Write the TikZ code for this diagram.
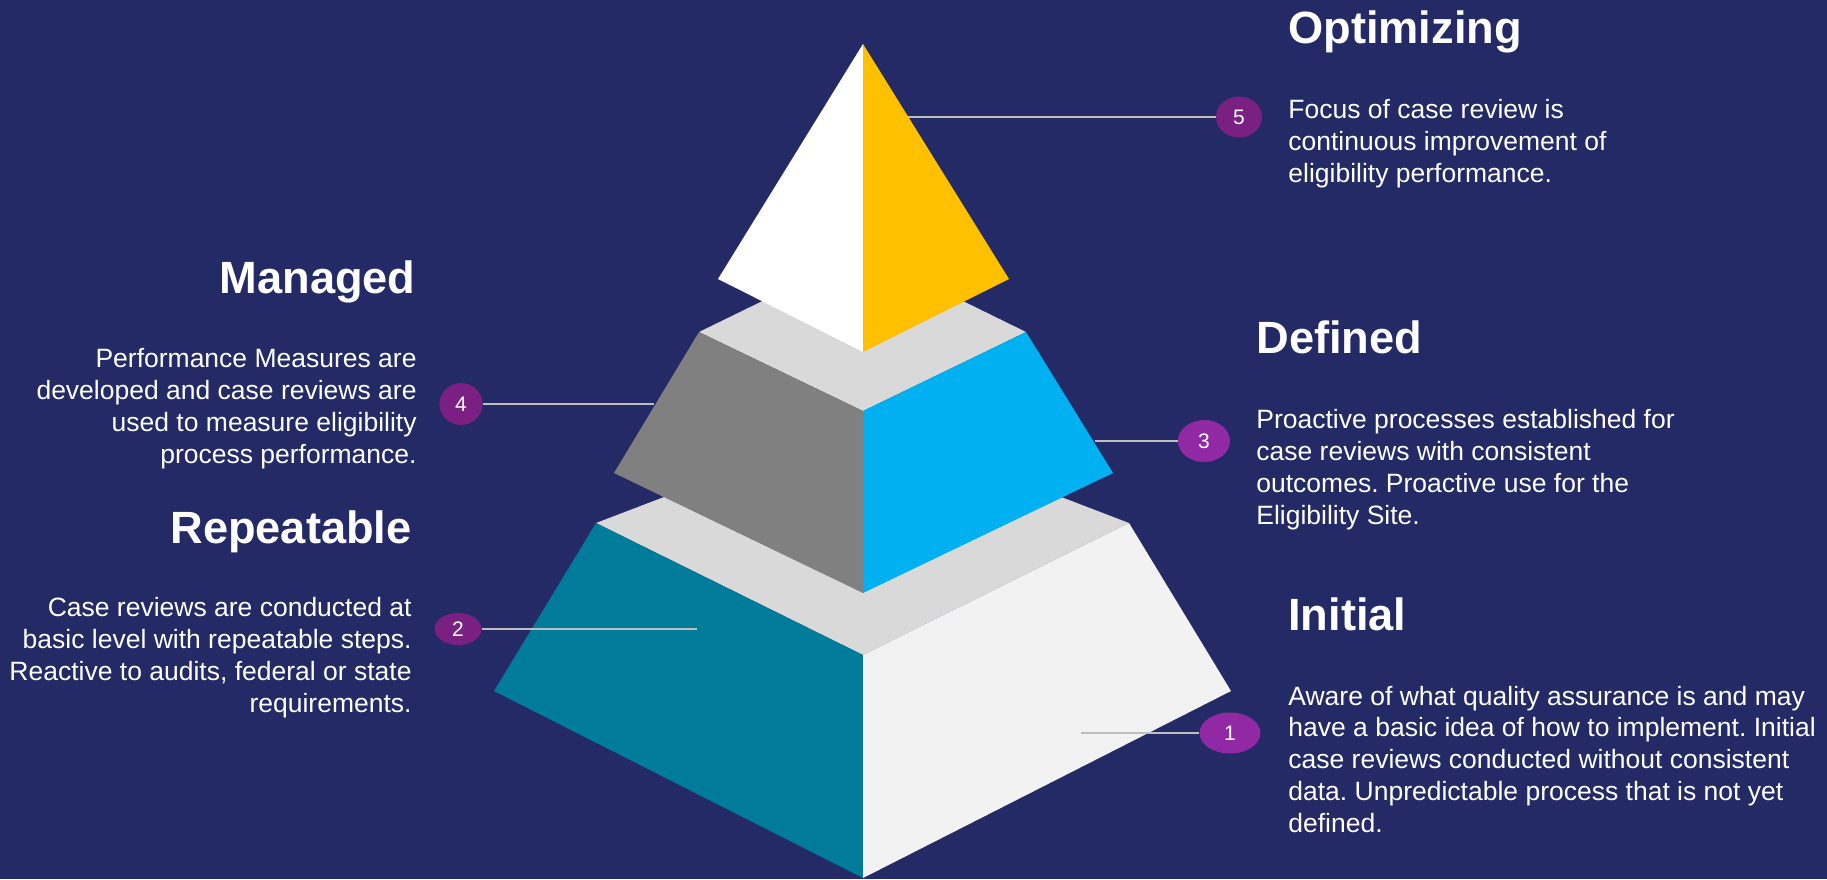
\documentclass[tikz,border=0pt]{standalone}
\usepackage{fontspec}
\setmainfont{Liberation Sans}
\frenchspacing
\usetikzlibrary{shapes.geometric}
\definecolor{navy}{RGB}{35,42,102}
\definecolor{topface}{RGB}{217,217,217}
\definecolor{optimizing}{RGB}{255,192,0}
\definecolor{defined}{RGB}{0,176,240}
\definecolor{managed}{RGB}{128,128,128}
\definecolor{repeatable}{RGB}{0,123,154}
\definecolor{initial}{RGB}{242,242,242}
\definecolor{leaderline}{RGB}{191,191,191}
\definecolor{plum}{RGB}{122,32,130}
\definecolor{violet}{RGB}{145,41,165}
\tikzstyle{badge}=[ellipse, inner sep=0pt, text=white, font=\fontsize{10.5pt}{12pt}\selectfont]
\tikzset{leader/.style={line width=1pt, color=leaderline}}
\tikzstyle{title}=[inner sep=0pt, text=white, font=\fontsize{22.6pt}{26pt}\selectfont\bfseries]
\tikzstyle{body}=[inner sep=0pt, text=white, font=\fontsize{13.25pt}{15.85pt}\selectfont]

\begin{document}
\begin{tikzpicture}[x=0.5pt,y=-0.5pt]
  \fill[navy] (0,0) rectangle (1827,879);
  \useasboundingbox (0,0) rectangle (1827,879);

  %% Bottom layer
  \fill[topface] (596,523) -- (863,421) -- (1129,523) -- (863,655) -- cycle;
  \fill[repeatable] (596,523) -- (494,691) -- (863,878) -- (863,655) -- cycle;
  \fill[initial] (1129,523) -- (1231,691) -- (863,878) -- (863,655) -- cycle;

  %% Middle layer
  \fill[topface] (699,332) -- (863,252) -- (1026,332) -- (863,411) -- cycle;
  \fill[managed] (699,332) -- (614,473) -- (863,593) -- (863,411) -- cycle;
  \fill[defined] (1026,332) -- (1113,473) -- (863,593) -- (863,411) -- cycle;

  %% Top
  \fill[white] (863,44) -- (718,279) -- (863,352) -- cycle;
  \fill[optimizing] (863,44) -- (1009,279) -- (863,352) -- cycle;

  %% Badges
  \draw (1239,117) node[badge, fill=plum, minimum width=23pt, minimum height=20.5pt] (C5) {5};
  \draw (461,404) node[badge, fill=plum, minimum width=21.5pt, minimum height=21pt] (C4) {4};
  \draw (1204,441) node[badge, fill=violet, minimum width=26pt, minimum height=21pt] (C3) {3};
  \draw (458,629) node[badge, fill=plum, minimum width=23.5pt, minimum height=16pt] (C2) {\raisebox{-2pt}{2}};
  \draw (1230,733) node[badge, fill=violet, minimum width=30.5pt, minimum height=20.5pt] (C1) {1};

  \coordinate (E5) at (907,117);
  \coordinate (E4) at (654,404);
  \coordinate (E3) at (1095,441);
  \coordinate (E2) at (697,629);
  \coordinate (E1) at (1081,733);

  \draw[leader] (E5) -- (C5);
  \draw[leader] (C4) -- (E4);
  \draw[leader] (E3) -- (C3);
  \draw[leader] (C2) -- (E2);
  \draw[leader] (E1) -- (C1);

  %% Texts (body nodes sit on their last baseline)
  \draw (1288,43) node[title, anchor=base west] (T5) {Optimizing};
  \draw (1288,182) node[body, anchor=base west, align=left] (D5) {Focus of case review is\\continuous improvement of\\eligibility performance.};

  \draw (416,293) node[title, anchor=base east] (T4) {Managed};
  \draw (417,463) node[body, anchor=base east, align=right] (D4) {Performance Measures are\\developed and case reviews are\\used to measure eligibility\\process performance.};

  \draw (1256,353) node[title, anchor=base west] (T3) {Defined};
  \draw (1256,524) node[body, anchor=base west, align=left] (D3) {Proactive processes established for\\case reviews with consistent\\outcomes. Proactive use for the\\Eligibility Site.};

  \draw (412,543) node[title, anchor=base east] (T2) {Repeatable};
  \draw (412,712) node[body, anchor=base east, align=right] (D2) {Case reviews are conducted at\\basic level with repeatable steps.\\Reactive to audits, federal or state\\requirements.};

  \draw (1288,630) node[title, anchor=base west] (T1) {Initial};
  \draw (1288,832) node[body, anchor=base west, align=left] (D1) {Aware of what quality assurance is and may\\have a basic idea of how to implement. Initial\\case reviews conducted without consistent\\data. Unpredictable process that is not yet\\defined.};
\end{tikzpicture}
\end{document}
